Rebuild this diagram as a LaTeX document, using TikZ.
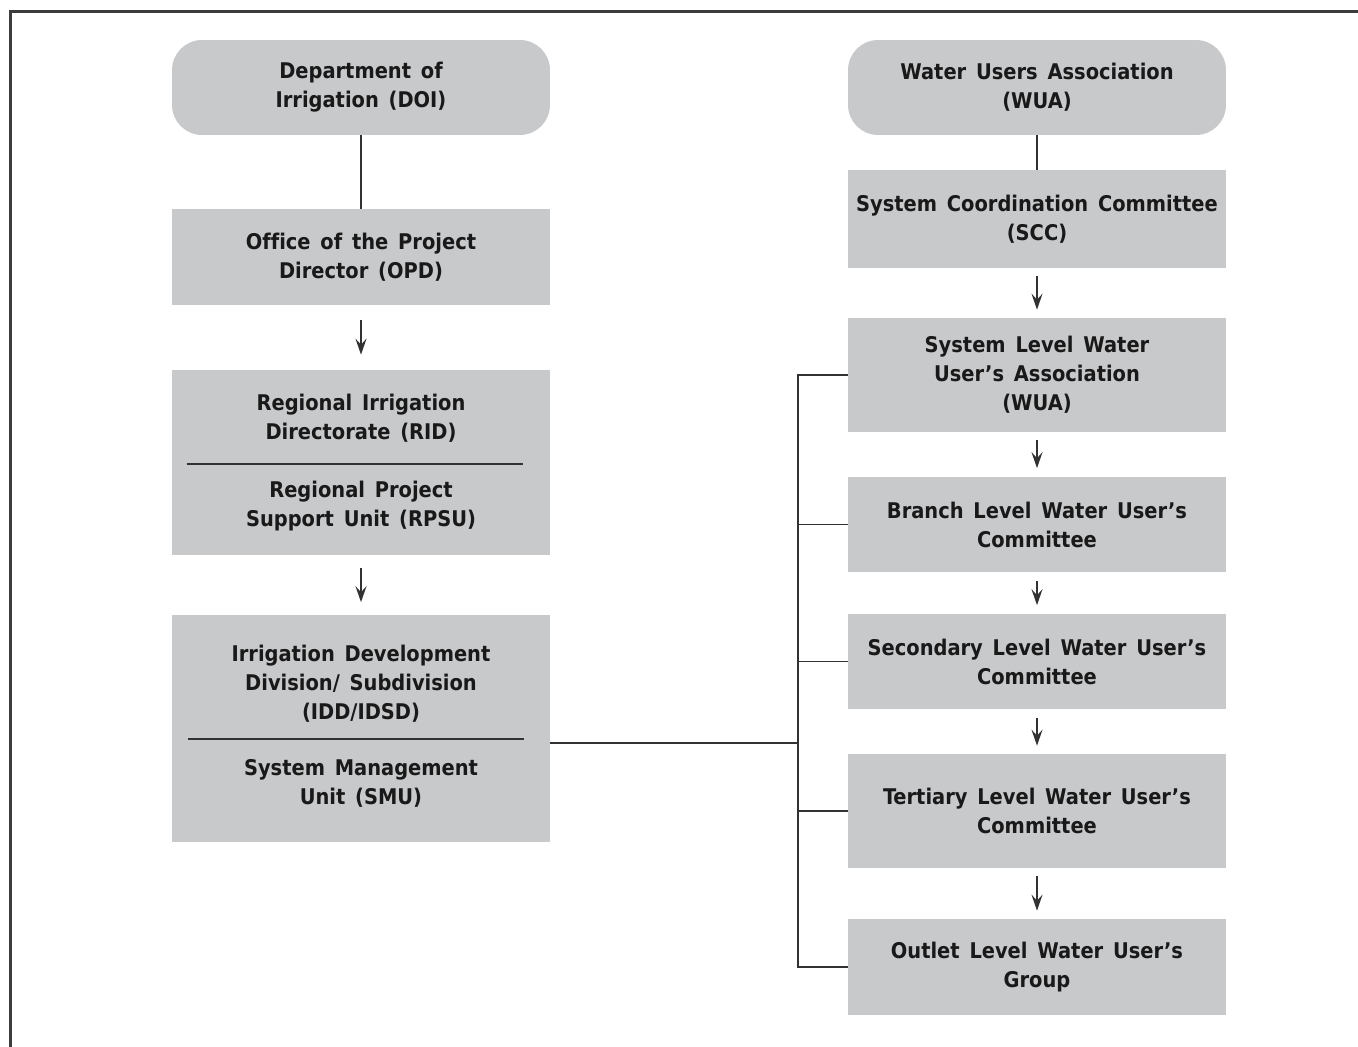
\documentclass[tikz,border=0pt]{standalone}
\usepackage{fontspec}
\setmainfont{DejaVu Sans Condensed}[WordSpace=1.45, Ligatures=NoCommon]
\usetikzlibrary{arrows.meta, positioning, calc}
\definecolor{BoxGray}{RGB}{200,201,203}
\definecolor{LineGray}{RGB}{50,50,50}
\definecolor{FrameGray}{RGB}{60,60,60}

\begin{document}
\begin{tikzpicture}[
    x=0.02cm, y=-0.02cm,
    font=\fontsize{12.3}{16.5}\selectfont\bfseries,
    txt/.style={align=center, text=black!90, inner sep=0pt},
    box/.style={txt, fill=BoxGray, minimum width=7.56cm},
    head/.style={box, rounded corners=0.6cm, minimum height=1.9cm},
    link/.style={draw=LineGray, line width=1.1pt},
    arr/.style={link, -{Stealth[length=3.2mm, width=2.2mm, inset=1.2mm]},
        shorten <=#1, shorten >=#1},
]
\useasboundingbox (0,0) rectangle (1358,1047);

% ===== marco =====
\draw[FrameGray, line width=1.6pt] (1358,11.5) -- (10.5,11.5) -- (10.5,1047);

% ===== columna izquierda =====
\node[head] (doi) at (361,87.5) {Department of\\Irrigation (DOI)};
\node[box, minimum height=1.92cm] (opd) at (361,257) {Office of the Project\\Director (OPD)};

\node[box, minimum height=3.7cm] (rid) at (361,462.5) {};
\node[txt] (ridtop) at ($(rid.center)+(0,-44)$) {Regional Irrigation\\Directorate (RID)};
\node[txt] (ridbot) at ($(rid.center)+(0,44)$) {Regional Project\\Support Unit (RPSU)};
\draw[link] ($(rid.west)+(15,1.5)$) -- ($(rid.east)+(-27,1.5)$);

\node[box, minimum height=4.54cm] (idd) at (361,728.5) {};
\node[txt] (iddtop) at ($(idd.center)+(0,-45)$) {Irrigation Development\\Division/ Subdivision\\(IDD/IDSD)};
\node[txt] (iddbot) at ($(idd.center)+(0,55)$) {System Management\\Unit (SMU)};
\draw[link] ($(idd.west)+(16,10.5)$) -- ($(idd.east)+(-26,10.5)$);

\draw[link] (doi.south) -- (opd.north);
\draw[arr=0.3cm] (opd.south) -- (rid.north);
\draw[arr=0.25cm] (rid.south) -- (idd.north);

% ===== columna derecha =====
\node[head] (wua) at (1037,87.5) {Water Users Association\\(WUA)};
\node[box, minimum height=1.96cm] (scc) at (1037,219) {System Coordination Committee\\(SCC)};
\node[box, minimum height=2.28cm] (swua) at (1037,375) {System Level Water\\User's Association\\(WUA)};
\node[box, minimum height=1.92cm] (blc) at (1037,524.5) {Branch Level Water User's\\Committee};
\node[box, minimum height=1.92cm] (slc) at (1037,661.5) {Secondary Level Water User's\\Committee};
\node[box, minimum height=2.28cm] (tlc) at (1037,811) {Tertiary Level Water User's\\Committee};
\node[box, minimum height=1.92cm] (olg) at (1037,967) {Outlet Level Water User's\\Group};

\draw[link] (wua.south) -- (scc.north);
\foreach \a/\b in {scc/swua, swua/blc, blc/slc, slc/tlc, tlc/olg}
    \draw[arr=0.16cm] (\a.south) -- (\b.north);

% ===== barra de enlace =====
\coordinate (bus) at (798,0);
\draw[link] (swua.west) -- (swua.west -| bus) -- (olg.west -| bus) -- (olg.west);
\foreach \n in {blc, slc, tlc}
    \draw[link] (\n.west) -- (\n.west -| bus);
\coordinate (iddout) at ($(idd.east)+(0,14.5)$);
\draw[link] (iddout) -- (iddout -| bus);

\end{tikzpicture}
\end{document}
